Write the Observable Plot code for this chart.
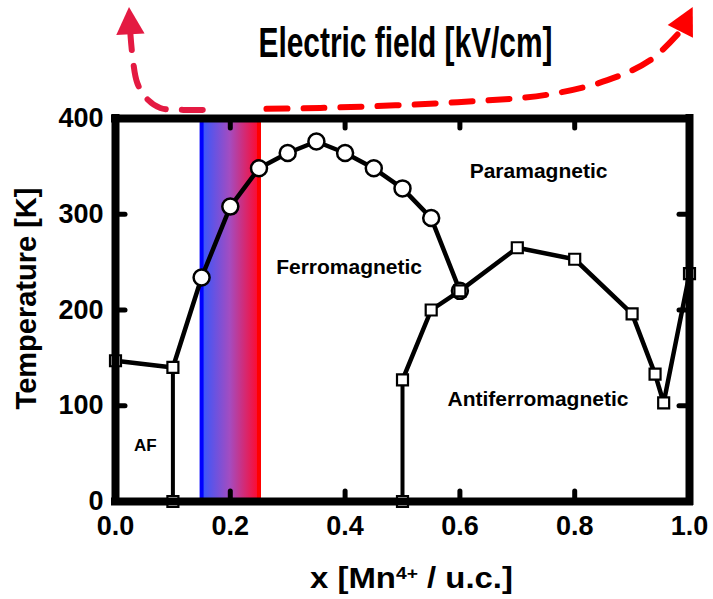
<!DOCTYPE html>
<html>
<head>
<meta charset="utf-8">
<script src="https://cdn.jsdelivr.net/npm/d3@7"></script>
<script src="https://cdn.jsdelivr.net/npm/@observablehq/plot@0.6"></script>
<style>
  html, body { margin: 0; padding: 0; background: #fff; }
  #chart { width: 713px; height: 599px; }
</style>
</head>
<body>
<div id="chart"></div>
<script>
// ---- data ----
const fmX = [0.15, 0.2, 0.25, 0.3, 0.35, 0.4, 0.45, 0.5, 0.55, 0.6];
const fmT = [234, 308, 348, 364, 376, 364, 348, 327, 296, 220];

const afLowX = [0, 0.1];
const afLowT = [147, 140];

const afHighX = [0.5, 0.55, 0.6, 0.7, 0.8, 0.9, 0.94, 0.955, 1.0];
const afHighT = [127, 200, 220, 265, 253, 196, 133, 103, 238];

const dropX = [0.1, 0.5];
const dropT = [140, 127];

const bandX = [0.15, 0.25];

const xTicks = [0, 0.2, 0.4, 0.6, 0.8, 1.0];
const yTicks = [0, 100, 200, 300, 400];
const innerXTicks = [0.2, 0.4, 0.6, 0.8];
const innerYTicks = [100, 200, 300];
const xEdges = [0, 1];
const yEdges = [0, 400];

const regionNames = ["Paramagnetic", "Ferromagnetic", "Antiferromagnetic", "AF"];
const regionX = [0.737, 0.407, 0.736, 0.052];
const regionT = [345, 245, 107, 58];

// electric-field arrows (annotation paths, data units)
const arrowLeftX = [0.152, 0.118, 0.078, 0.054, 0.038, 0.030, 0.026];
const arrowLeftT = [409, 409, 411, 421, 437, 463, 488];
const arrowRightX = [0.251, 0.357, 0.596, 0.754, 0.857, 0.932, 0.984];
const arrowRightT = [410, 411, 417, 425, 440, 461, 491];
const headX = [0.026, 0.984];
const headT = [488, 491];
const headAngle = [-3, 27];

const titleText = "Electric field [kV/cm]";
const xLabel = "x [Mn4+ / u.c.]";
const yLabel = "Temperature [K]";

// ---- derived tables ----
const zipXY = (xs, ys) => xs.map((x, i) => ({x, y: ys[i]}));
const fmLine = [{x: afLowX[1], y: afLowT[1]}, ...zipXY(fmX, fmT)];
const fmPts = zipXY(fmX, fmT);
const afLow = zipXY(afLowX, afLowT);
const afHigh = zipXY(afHighX, afHighT);
const drops = zipXY(dropX, dropT);
const squares = [...afLow, ...afHigh, ...dropX.map(x => ({x, y: 0}))];
const regions = regionNames.map((t, i) => ({t, x: regionX[i], y: regionT[i]}));
const arrowL = zipXY(arrowLeftX, arrowLeftT);
const arrowR = zipXY(arrowRightX, arrowRightT);
const heads = headX.map((x, i) => ({x, y: headT[i], a: headAngle[i], c: i === 0 ? "#e41a42" : "#fe0000"}));

const tickLenPx = 10;
const xTickLen = tickLenPx / 574;
const yTickLen = tickLenPx / 0.9575;

const arrowHead = {
  draw(context, size) {
    const r = Math.sqrt(size / Math.PI);
    context.moveTo(0, -2.6 * r);
    context.lineTo(1.35 * r, 0);
    context.lineTo(-1.35 * r, 0);
    context.closePath();
  }
};

const defsMark = () => {
  const defs = d3.create("svg:defs");
  const g = defs.append("linearGradient").attr("id", "bandGrad")
    .attr("x1", "0%").attr("x2", "100%").attr("y1", "0%").attr("y2", "0%");
  g.append("stop").attr("offset", "0%").attr("stop-color", "#3358ff");
  g.append("stop").attr("offset", "50%").attr("stop-color", "#a44cc0");
  g.append("stop").attr("offset", "100%").attr("stop-color", "#ff0a2e");
  return defs.node();
};

const font = "'Liberation Sans', Arial, Helvetica, sans-serif";

const plot = Plot.plot({
  width: 713,
  height: 599,
  marginLeft: 115,
  marginRight: 24,
  marginTop: 118,
  marginBottom: 98,
  x: {domain: [0, 1]},
  y: {domain: [0, 400]},
  style: {fontFamily: font, fontWeight: "bold", fontSize: "27px", color: "black", background: "white"},
  marks: [
    defsMark,
    Plot.rect([{x1: bandX[0], x2: bandX[1], y1: 0, y2: 400}], {x1: "x1", x2: "x2", y1: "y1", y2: "y2", fill: "url(#bandGrad)"}),
    Plot.ruleX([bandX[0]], {y1: 0, y2: 400, stroke: "#0000ff", strokeWidth: 4}),
    Plot.ruleX([bandX[1]], {y1: 0, y2: 400, stroke: "#ff0000", strokeWidth: 4}),
    Plot.ruleX(drops, {x: "x", y1: 0, y2: "y", stroke: "black", strokeWidth: 4}),
    Plot.line(afLow, {x: "x", y: "y", stroke: "black", strokeWidth: 4.5}),
    Plot.line(fmLine, {x: "x", y: "y", stroke: "black", strokeWidth: 4.5}),
    Plot.line(afHigh, {x: "x", y: "y", stroke: "black", strokeWidth: 4.5}),
    Plot.dot(fmPts, {x: "x", y: "y", r: 8, fill: "white", stroke: "black", strokeWidth: 2.5}),
    Plot.dot(squares, {x: "x", y: "y", symbol: "square", r: 6.2, fill: "white", stroke: "black", strokeWidth: 2.2}),
    // thick frame
    Plot.ruleX(xEdges, {y1: 0, y2: 400, stroke: "black", strokeWidth: 8, strokeLinecap: "square"}),
    Plot.ruleY(yEdges, {x1: 0, x2: 1, stroke: "black", strokeWidth: 8, strokeLinecap: "square"}),
    // inward ticks
    Plot.ruleX(innerXTicks, {y1: 0, y2: yTickLen, stroke: "black", strokeWidth: 5, strokeLinecap: "round"}),
    Plot.ruleX(innerXTicks, {y1: 400, y2: 400 - yTickLen, stroke: "black", strokeWidth: 5, strokeLinecap: "round"}),
    Plot.ruleY(innerYTicks, {x1: 0, x2: xTickLen, stroke: "black", strokeWidth: 5, strokeLinecap: "round"}),
    Plot.ruleY(innerYTicks, {x1: 1, x2: 1 - xTickLen, stroke: "black", strokeWidth: 5, strokeLinecap: "round"}),
    Plot.axisX({ticks: xTicks, tickFormat: d3.format(".1f"), tickSize: 0, tickPadding: 14, fontSize: 27, fontWeight: "bold", label: null}),
    Plot.axisY({ticks: yTicks, tickFormat: d3.format("d"), tickSize: 0, tickPadding: 12, fontSize: 27, fontWeight: "bold", label: null}),
    Plot.text(regions.slice(0, 3), {x: "x", y: "y", text: "t", fontSize: 21, fontWeight: "bold", textAnchor: "middle", lineAnchor: "middle", fill: "black"}),
    Plot.text(regions.slice(3), {x: "x", y: "y", text: "t", fontSize: 17, fontWeight: "bold", textAnchor: "middle", lineAnchor: "middle", fill: "black"}),
    // axis titles
    Plot.text([yLabel], {frameAnchor: "left", text: d => d, rotate: -90, dx: -88.5, dy: -11.5, fontSize: 29, fontWeight: "bold", textAnchor: "middle", lineAnchor: "middle", fill: "black"}),
    Plot.text([xLabel], {frameAnchor: "bottom", text: d => d, dx: 9, dy: 86, fontSize: 29, fontWeight: "bold", textAnchor: "middle", lineAnchor: "bottom", fill: "black"}),
    Plot.text([titleText], {frameAnchor: "top", text: d => d, dx: 3, dy: -62, fontSize: 42, fontWeight: "bold", textAnchor: "middle", lineAnchor: "bottom", fill: "black"}),
    // electric field arrows
    Plot.line(arrowL, {x: "x", y: "y", curve: "catmull-rom", stroke: "#e41a42", strokeWidth: 6, strokeDasharray: "21,16"}),
    Plot.line(arrowR, {x: "x", y: "y", curve: "catmull-rom", stroke: "#fe0000", strokeWidth: 6, strokeDasharray: "21,16", strokeDashoffset: 30}),
    Plot.dot(heads, {x: "x", y: "y", symbol: arrowHead, r: 10.5, rotate: "a", fill: "c", stroke: "none"})
  ]
});

document.getElementById("chart").appendChild(plot);

// post-process: superscript and condensed/stretched text widths
const svg = d3.select(plot);
svg.selectAll("text").each(function () {
  const t = d3.select(this);
  const txt = this.textContent;
  if (txt === xLabel) {
    t.text(null);
    t.append("tspan").text("x [Mn");
    t.append("tspan").attr("dy", -9).attr("font-size", 17).text("4+");
    t.append("tspan").attr("dy", 9).text(" / u.c.]");
    t.attr("textLength", 203).attr("lengthAdjust", "spacingAndGlyphs");
  } else if (txt === titleText) {
    t.attr("textLength", 294).attr("lengthAdjust", "spacingAndGlyphs");
  }
});
</script>
</body>
</html>
